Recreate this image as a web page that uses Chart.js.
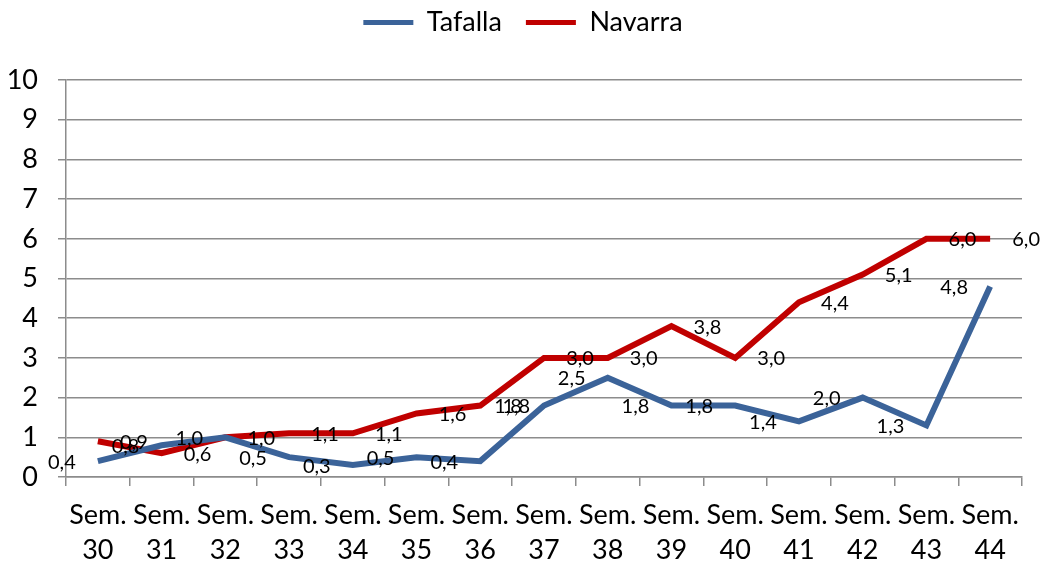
<!DOCTYPE html>
<html>
<head>
<meta charset="utf-8">
<script src="https://cdn.jsdelivr.net/npm/chart.js@4/dist/chart.umd.min.js"></script>
<style>
  html, body { margin: 0; padding: 0; background: #fff; }
  #wrap { width: 1041px; height: 565px; }
</style>
</head>
<body>
<div id="wrap"><canvas id="chart" width="1041" height="565"></canvas></div>
<script>
// Weekly data (Sem. 30 - Sem. 44)
var weeks = ['30', '31', '32', '33', '34', '35', '36', '37', '38', '39', '40', '41', '42', '43', '44'];
var tafalla = [0.4, 0.8, 1.0, 0.5, 0.3, 0.5, 0.4, 1.8, 2.5, 1.8, 1.8, 1.4, 2.0, 1.3, 4.8];
var navarra = [0.9, 0.6, 1.0, 1.1, 1.1, 1.6, 1.8, 3.0, 3.0, 3.8, 3.0, 4.4, 5.1, 6.0, 6.0];
var yTicks = [0, 1, 2, 3, 4, 5, 6, 7, 8, 9, 10];

var categoryLabels = weeks.map(function (w) { return ['Sem.', w]; });

var FONT = 'Lato, "DejaVu Sans", sans-serif';
var GRID = '#8c8c8c';

// value labels: Tafalla shifted left of the point, Navarra to the right
var labelShift = [-36, 36];
var valueLabels = {
	id: 'valueLabels',
	afterDatasetsDraw: function (chart) {
		var ctx = chart.ctx;
		ctx.save();
		ctx.font = '20px ' + FONT;
		ctx.fillStyle = '#000';
		ctx.textAlign = 'center';
		ctx.textBaseline = 'middle';
		chart.data.datasets.forEach(function (ds, i) {
			var meta = chart.getDatasetMeta(i);
			meta.data.forEach(function (pt, j) {
				var txt = ds.data[j].toFixed(1).replace('.', ',');
				ctx.fillText(txt, pt.x + labelShift[i], pt.y + 1);
			});
		});
		ctx.restore();
	}
};

// extra room under the legend so the plot starts lower, legend nudged right
var legendSpace = {
	id: 'legendSpace',
	afterInit: function (chart) {
		var lg = chart.legend;
		var fit = lg.fit;
		var draw = lg.draw;
		lg.fit = function () {
			fit.apply(this, arguments);
			this.height += 34;
		};
		lg.draw = function () {
			var c = this.ctx;
			c.save();
			c.translate(10, 0);
			draw.apply(this, arguments);
			c.restore();
		};
	}
};

var ctx = document.getElementById('chart').getContext('2d');
var chart = new Chart(ctx, {
	type: 'line',
	data: {
		labels: categoryLabels,
		datasets: [{
			label: 'Tafalla',
			data: tafalla,
			borderColor: '#3b6399',
			backgroundColor: '#3b6399',
			borderWidth: 6,
			pointRadius: 0,
			tension: 0
		}, {
			label: 'Navarra',
			data: navarra,
			borderColor: '#c00000',
			backgroundColor: '#c00000',
			borderWidth: 6,
			pointRadius: 0,
			tension: 0
		}]
	},
	options: {
		responsive: false,
		animation: false,
		layout: { padding: { left: 4, right: 19, top: -15, bottom: 0 } },
		plugins: {
			legend: {
				position: 'top',
				labels: {
					color: '#000',
					font: { family: FONT, size: 27 },
					boxWidth: 50,
					boxHeight: 5,
					padding: 24,
					generateLabels: function (chart) {
						return chart.data.datasets.map(function (ds, i) {
							return {
								text: ds.label,
								fillStyle: ds.borderColor,
								strokeStyle: ds.borderColor,
								lineWidth: 0,
								datasetIndex: i
							};
						});
					}
				}
			},
			tooltip: { enabled: false }
		},
		scales: {
			x: {
				offset: true,
				grid: {
					offset: true,
					drawOnChartArea: false,
					drawTicks: true,
					tickLength: 9,
					color: GRID,
					lineWidth: 1.5
				},
				border: { color: GRID, width: 1.5 },
				ticks: {
					color: '#000',
					font: { family: FONT, size: 27, lineHeight: 1.3 },
					maxRotation: 0,
					autoSkip: false,
					padding: 12
				},
				afterFit: function (s) { s.height = 88; }
			},
			y: {
				min: 0,
				max: 10,
				afterBuildTicks: function (s) {
					s.ticks = yTicks.map(function (v) { return { value: v }; });
				},
				grid: {
					color: GRID,
					lineWidth: 1.5,
					tickLength: 8
				},
				border: { color: GRID, width: 1.5 },
				ticks: {
					color: '#000',
					font: { family: FONT, size: 27 },
					padding: 20
				},
				afterFit: function (s) { s.width = 62; }
			}
		}
	},
	plugins: [valueLabels, legendSpace]
});
</script>
</body>
</html>
